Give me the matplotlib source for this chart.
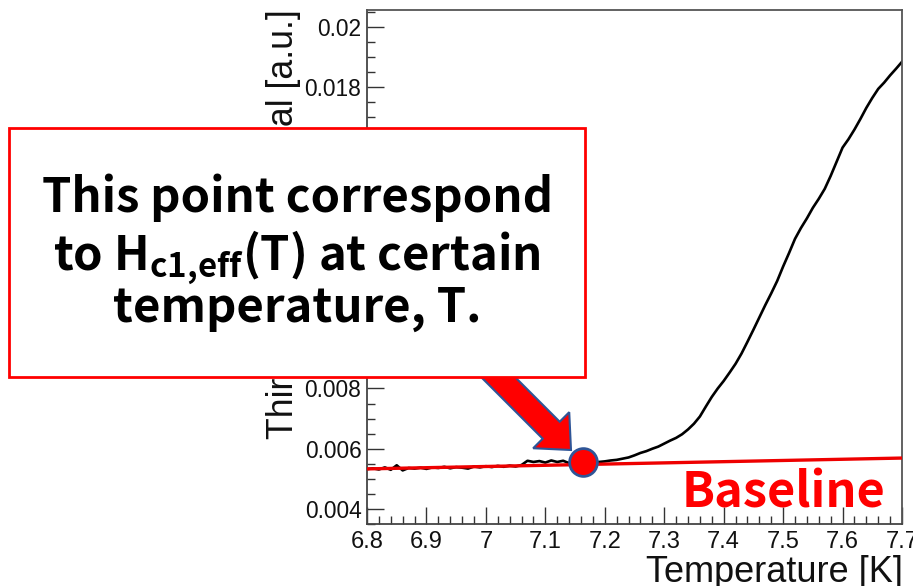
import numpy as np
import matplotlib
matplotlib.use("Agg")
import matplotlib.pyplot as plt
from matplotlib.patches import Rectangle, Polygon
from matplotlib.transforms import IdentityTransform
from matplotlib.ticker import MultipleLocator, FixedLocator, FixedFormatter

# ---------------- data ----------------
temperature = [
    6.80, 6.81, 6.82, 6.83, 6.84, 6.85, 6.86, 6.87, 6.88, 6.89,
    6.90, 6.91, 6.92, 6.93, 6.94, 6.95, 6.96, 6.97, 6.98, 6.99,
    7.00, 7.01, 7.02, 7.03, 7.04, 7.05, 7.06, 7.07, 7.08, 7.09,
    7.10, 7.11, 7.12, 7.13, 7.14, 7.15, 7.16, 7.17, 7.18, 7.19,
    7.20, 7.21, 7.22, 7.23, 7.24, 7.25, 7.26, 7.27, 7.28, 7.29,
    7.30, 7.31, 7.32, 7.33, 7.34, 7.35, 7.36, 7.37, 7.38, 7.39,
    7.40, 7.41, 7.42, 7.43, 7.44, 7.45, 7.46, 7.47, 7.48, 7.49,
    7.50, 7.51, 7.52, 7.53, 7.54, 7.55, 7.56, 7.57, 7.58, 7.59,
    7.60, 7.61, 7.62, 7.63, 7.64, 7.65, 7.66, 7.67, 7.68, 7.69,
    7.70,
]
signal = [
    0.00532, 0.00535, 0.00531, 0.00538, 0.00530, 0.00545, 0.00528, 0.00536, 0.00534, 0.00537,
    0.00533, 0.00538, 0.00536, 0.00540, 0.00535, 0.00539, 0.00537, 0.00534, 0.00541, 0.00538,
    0.00542, 0.00539, 0.00543, 0.00540, 0.00544, 0.00541, 0.00546, 0.00560, 0.00556, 0.00559,
    0.00554, 0.00561, 0.00556, 0.00560, 0.00552, 0.00557, 0.00554, 0.00556, 0.00553, 0.00556,
    0.00558, 0.00561, 0.00563, 0.00567, 0.00571, 0.00578, 0.00586, 0.00592, 0.00600, 0.00607,
    0.00617, 0.00627, 0.00636, 0.00648, 0.00664, 0.00683, 0.00707, 0.00740, 0.00772, 0.00800,
    0.00825, 0.00853, 0.00882, 0.00916, 0.00955, 0.00995, 0.01036, 0.01077, 0.01116, 0.01157,
    0.01205, 0.01250, 0.01297, 0.01333, 0.01365, 0.01400, 0.01430, 0.01463, 0.01506, 0.01553,
    0.01600, 0.01628, 0.01660, 0.01695, 0.01732, 0.01765, 0.01795, 0.01816, 0.01840, 0.01862,
    0.01885,
]
baseline_T = [6.80, 7.70]
baseline_V = [0.00533, 0.00569]
point_T = [7.163]
point_V = [0.00556]

x_ticks = [6.8, 6.9, 7.0, 7.1, 7.2, 7.3, 7.4, 7.5, 7.6, 7.7]
x_ticklabels = ["6.8", "6.9", "7", "7.1", "7.2", "7.3", "7.4", "7.5", "7.6", "7.7"]
y_ticks = [0.004, 0.006, 0.008, 0.010, 0.012, 0.014, 0.016, 0.018, 0.020]
y_ticklabels = ["0.004", "0.006", "0.008", "0.01", "0.012", "0.014", "0.016", "0.018", "0.02"]

# ---------------- style ----------------
plt.rcParams['mathtext.fontset'] = 'custom'
plt.rcParams['mathtext.rm'] = 'Noto Sans CJK JP:bold'
plt.rcParams['mathtext.bf'] = 'Noto Sans CJK JP:bold'
plt.rcParams['mathtext.it'] = 'Noto Sans CJK JP:bold'

W, H = 913, 586
fig = plt.figure(figsize=(W / 100, H / 100), dpi=100)
ax = fig.add_axes([367 / W, 1 - 524 / H, 535 / W, 514 / H])

ax.plot(temperature, signal, color='black', lw=1.9, zorder=2)
ax.plot(baseline_T, baseline_V, color='#ee0000', lw=2.4, zorder=3, solid_capstyle='butt')
ax.plot(point_T, point_V, 'o', ms=20, mfc='#ff0000', mec='#2f5597', mew=2.0,
        zorder=6, clip_on=False)

ax.set_xlim(6.8, 7.7)
ax.set_ylim(0.0035, 0.02057)

ax.xaxis.set_major_locator(FixedLocator(x_ticks))
ax.xaxis.set_major_formatter(FixedFormatter(x_ticklabels))
ax.yaxis.set_major_locator(FixedLocator(y_ticks))
ax.yaxis.set_major_formatter(FixedFormatter(y_ticklabels))
ax.xaxis.set_minor_locator(MultipleLocator(0.02))
ax.yaxis.set_minor_locator(MultipleLocator(0.0005))

ax.tick_params(which='both', direction='in', top=False, right=False, width=1.0, color='#333333')
ax.tick_params(which='major', length=12)
ax.tick_params(which='minor', length=6)
ax.tick_params(axis='y', labelsize=16.4, pad=4)
ax.tick_params(axis='x', labelsize=17, pad=5)
for lab in ax.get_xticklabels() + ax.get_yticklabels():
    lab.set_fontfamily('Liberation Sans')
    lab.set_color('#111111')
for s in ['left', 'bottom']:
    ax.spines[s].set_color('#444444')
    ax.spines[s].set_linewidth(1.3)
for s in ['top', 'right']:
    ax.spines[s].set_color('#555555')
    ax.spines[s].set_linewidth(1.3)

# axis titles (ROOT style, aligned to axis end)
fig.text(903 / W, 1 - 555 / H, "Temperature [K]", ha='right', va='top',
         fontsize=26, family='Liberation Sans', color='#111111')
fig.text(283 / W, 1 - 9 / H, "Third harmonic signal [a.u.]", ha='center', va='top',
         rotation=90, fontsize=25.7, family='Liberation Sans', color='#111111')

# big arrow (pixel coordinates, display y up)
tip = np.array([571.0, H - 450.0])
u = np.array([1.0, -1.0]) / np.sqrt(2)
n = np.array([1.0, 1.0]) / np.sqrt(2)
Lh, Wh, Ws, L = 28.0, 25.5, 12.0, 150.0
B = tip - u * Lh
S = tip - u * L
verts = [S + n * Ws, B + n * Ws, B + n * Wh, tip, B - n * Wh, B - n * Ws, S - n * Ws]
arrow = Polygon(verts, closed=True, transform=IdentityTransform(), facecolor='#ff0000',
                edgecolor='#2f5597', lw=1.5, zorder=5, clip_on=False)
ax.add_artist(arrow)

# annotation box
box = Rectangle((9 / W, 1 - 377 / H), 576 / W, 249 / H, transform=fig.transFigure,
                facecolor='white', edgecolor='#ff0000', lw=2.0, zorder=10)
fig.add_artist(box)
tkw = dict(ha='center', va='baseline', fontsize=34, family='Noto Sans CJK JP',
           weight='bold', color='black', zorder=11)
fig.text(297 / W, 1 - 212 / H, "This point correspond", **tkw)
fig.text(297 / W, 1 - 270 / H, r"to H$_{\mathrm{c1{,}eff}}$(T) at certain", **tkw)
fig.text(297 / W, 1 - 322 / H, "temperature, T.", **tkw)

fig.text(885 / W, 1 - 508 / H, "Baseline", ha='right', va='baseline', fontsize=35,
         family='Noto Sans CJK JP', weight='bold', color='#ff0000', zorder=11)

fig.savefig("out.png", dpi=100)
